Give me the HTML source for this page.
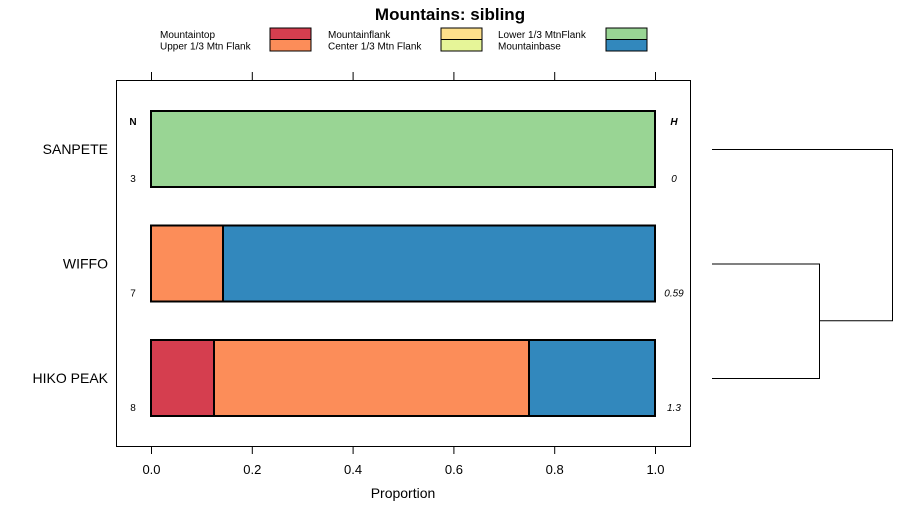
<!DOCTYPE html>
<html><head><meta charset="utf-8"><style>body{margin:0;background:#fff}svg{display:block;font-family:"Liberation Sans",sans-serif}</style></head><body>
<svg id="c" width="900" height="520" xmlns="http://www.w3.org/2000/svg"></svg>
<script>
const categories=["SANPETE","WIFFO","HIKO PEAK"];
const seriesNames=["Mountaintop","Upper 1/3 Mtn Flank","Mountainflank","Center 1/3 Mtn Flank","Lower 1/3 MtnFlank","Mountainbase"];
const colors=["#D53E4F","#FC8D59","#FEE08B","#E6F598","#99D594","#3288BD"];
const sanpete=[0,0,0,0,1,0];
const wiffo=[0,0.142857,0,0,0,0.857143];
const hiko=[0.125,0.625,0,0,0,0.25];
const nValues=["3","7","8"];
const hValues=["0","0.59","1.3"];
const ticks=[0,0.2,0.4,0.6,0.8,1.0];
const tickLabels=["0.0","0.2","0.4","0.6","0.8","1.0"];
const rows=[sanpete,wiffo,hiko];
const NS="http://www.w3.org/2000/svg",svg=document.getElementById('c');
const x=v=>151+v*504, yc=i=>149+i*114.5;
function mk(t,a,txt){const e=document.createElementNS(NS,t);for(const k in a)e.setAttribute(k,a[k]);if(txt!=null)e.textContent=txt;svg.appendChild(e);return e;}
let e=mk('text',{x:450,y:20,'text-anchor':'middle','font-size':17,'font-weight':'bold'},'Mountains: sibling');

const lx=[160,328,498],sx=[270,441,606];
seriesNames.forEach((n,i)=>{const c=Math.floor(i/2),r=i%2;
 let t=mk('text',{x:lx[c],y:38+r*11.5,'font-size':10},n);
 let s=mk('rect',{x:sx[c],y:28+r*11.5,width:41,height:11.5,fill:colors[i],stroke:'#000','stroke-width':1});});
e=mk('rect',{x:116.5,y:80.5,width:574,height:366,fill:'none',stroke:'#000','stroke-width':1});

ticks.forEach((v,i)=>{const X=x(v)+0.5;
 let a=mk('line',{x1:X,x2:X,y1:72,y2:80,stroke:'#000'});
 let b=mk('line',{x1:X,x2:X,y1:446,y2:454,stroke:'#000'});
 let t=mk('text',{x:X,y:474,'text-anchor':'middle','font-size':13},tickLabels[i]);});
e=mk('text',{x:403,y:498,'text-anchor':'middle','font-size':14},'Proportion');
rows.forEach((r,i)=>{let cum=0;const y0=yc(i)-38;
 r.forEach((v,j)=>{if(v<=0)return;let b=mk('rect',{x:x(cum),y:y0,width:x(cum+v)-x(cum),height:76,fill:colors[j],stroke:'#000','stroke-width':2});cum+=v;});
 let l=mk('text',{x:108,y:yc(i)+5,'text-anchor':'end','font-size':14},categories[i]);
 let n=mk('text',{x:133,y:yc(i)+33,'text-anchor':'middle','font-size':10},nValues[i]);
 let h=mk('text',{x:674,y:yc(i)+33,'text-anchor':'middle','font-size':10,'font-style':'italic'},hValues[i]);});
e=mk('text',{x:133,y:125,'text-anchor':'middle','font-size':10,'font-weight':'bold'},'N');
e=mk('text',{x:674,y:125,'text-anchor':'middle','font-size':10,'font-weight':'bold','font-style':'italic'},'H');
const m=(yc(1)+yc(2))/2;
e=mk('path',{d:`M712 ${yc(1)+.5}H819.5V${yc(2)+.5}H712M819.5 ${m}H892.5V${yc(0)+.5}H712`,fill:'none',stroke:'#000','stroke-width':1});

</script></body></html>
